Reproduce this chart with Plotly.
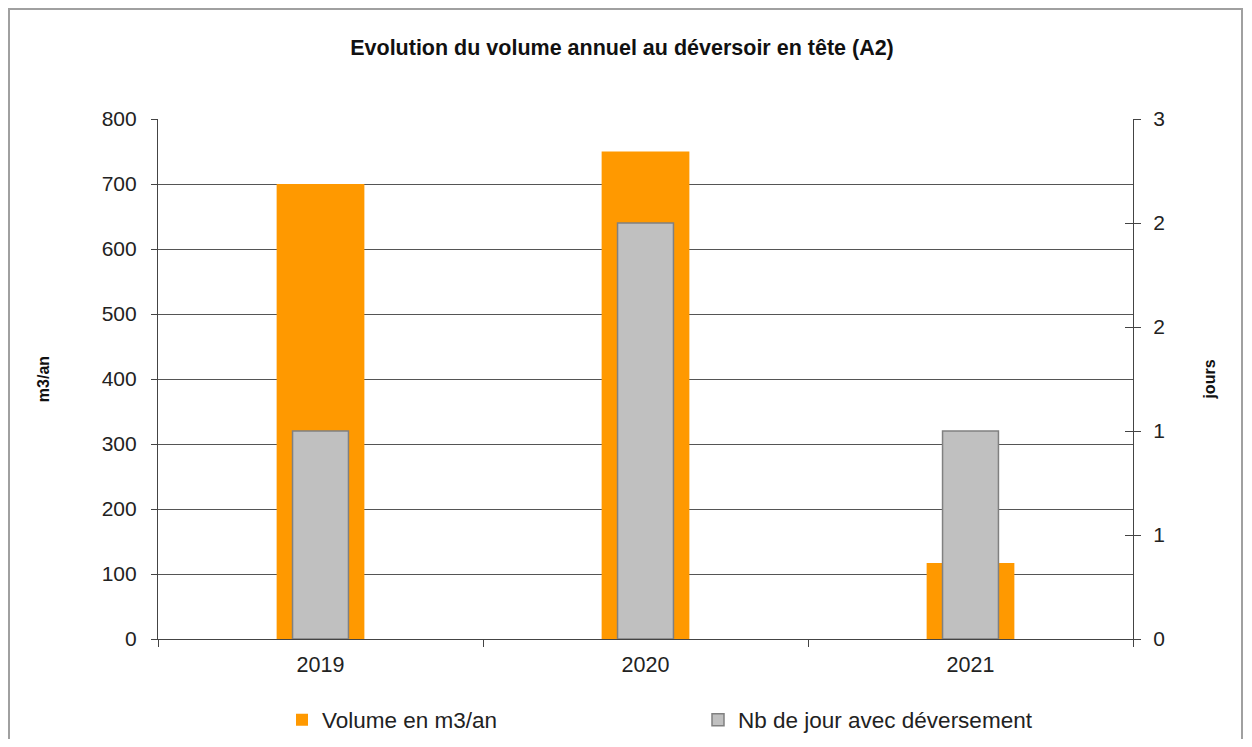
import plotly.graph_objects as go

years = ["2019", "2020", "2021"]
volume_m3 = [700, 750, 117]
nb_jours = [1, 2, 1]
y2_tickvals = [0, 0.5, 1, 1.5, 2, 2.5]
y2_ticktext = ["0", "1", "1", "2", "2", "3"]

FONT = "Liberation Sans, Arial, sans-serif"
AXC = "#444444"

# figure is 1236x731 (page body has an 8px margin)
W, H = 1236, 731
L, T, R, B = 150, 111, 111, 100
PW, PH = W - L - R, H - T - B

fig = go.Figure()
fig.add_trace(go.Bar(
    x=years, y=volume_m3, name="Volume en m3/an", yaxis="y",
    width=0.27, marker=dict(color="#FF9900", line=dict(width=0)),
))
fig.add_trace(go.Bar(
    x=years, y=nb_jours, name="Nb de jour avec déversement", yaxis="y2",
    width=0.172, marker=dict(color="#C0C0C0", line=dict(color="#808080", width=1.5)),
))
# invisible helper trace for inner ticks of right axis
fig.add_trace(go.Scatter(x=years, y=nb_jours, yaxis="y3", mode="none",
                         showlegend=False, hoverinfo="skip"))

fig.update_layout(
    width=W, height=H,
    margin=dict(l=L, r=R, t=T, b=B, autoexpand=False),
    paper_bgcolor="white", plot_bgcolor="white",
    barmode="overlay",
    font=dict(family=FONT, size=21, color="#222222"),
    title=dict(text="<b>Evolution du volume annuel au déversoir en tête (A2)</b>",
               x=614 / W, xanchor="center", y=1 - 39 / H, yanchor="middle",
               xref="container", yref="container",
               font=dict(family=FONT, size=21.5, color="#111111")),
    xaxis=dict(type="category", range=[-0.5, 2.5], showline=True, linecolor=AXC, linewidth=1.2,
               ticks="outside", tickson="boundaries", ticklen=7, tickcolor=AXC,
               showgrid=False, tickfont=dict(size=21.5), ticklabelstandoff=6, automargin=False),
    yaxis=dict(range=[0, 800], dtick=100, showline=True, linecolor=AXC, linewidth=1.2,
               ticks="outside", ticklen=6, tickcolor=AXC,
               showgrid=True, gridcolor="#555555", gridwidth=1,
               zeroline=False, tickfont=dict(size=21), ticklabelstandoff=10, automargin=False,
               title=dict(text="<b>m3/an</b>", font=dict(size=16, color="#111111"), standoff=48)),
    yaxis2=dict(range=[0, 2.5], overlaying="y", side="right", anchor="x",
                tickvals=y2_tickvals, ticktext=y2_ticktext,
                showline=True, linecolor=AXC, linewidth=1.2,
                ticks="outside", ticklen=7, tickcolor=AXC, showgrid=False, zeroline=False,
                tickfont=dict(size=21), ticklabelstandoff=8, automargin=False,
                title=dict(text="<b>jours</b>", font=dict(size=16, color="#111111"), standoff=39)),
    yaxis3=dict(range=[0, 2.5], overlaying="y", side="right", anchor="x",
                tickvals=y2_tickvals, showticklabels=False, automargin=False,
                ticks="inside", ticklen=8, tickcolor=AXC, showgrid=False, zeroline=False,
                showline=False),
    legend=dict(orientation="h", x=124 / PW, xanchor="left",
                y=-81 / PH, yanchor="middle",
                font=dict(size=22.5, color="#222222"),
                entrywidth=371, entrywidthmode="pixels", itemwidth=30),
    shapes=[dict(type="rect", xref="paper", yref="paper",
                 x0=(1 - L) / PW, x1=(W - 2 - L) / PW,
                 y0=(PH + T - (H + 20)) / PH, y1=(PH + T - 1) / PH,
                 line=dict(color="#A0A0A0", width=2), fillcolor="rgba(0,0,0,0)", layer="below")],
)

fig.write_html("out.html")
